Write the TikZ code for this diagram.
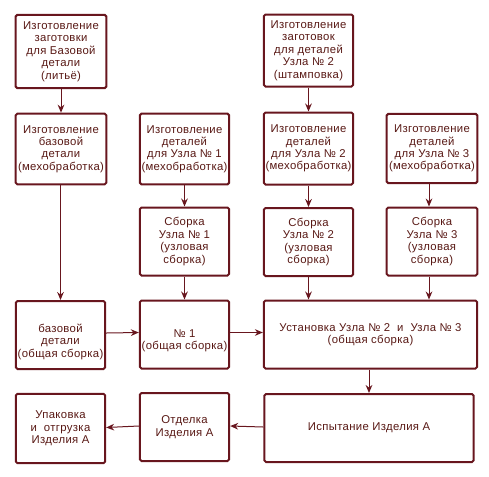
\documentclass[tikz,border=0pt]{standalone}
\usepackage{fontspec}
\setmainfont{Liberation Sans}[LetterSpace=3]
\usetikzlibrary{arrows.meta}
\definecolor{edge}{RGB}{104,22,30}
\definecolor{ink}{RGB}{88,24,20}
\begin{document}
\begin{tikzpicture}[x=0.75pt,y=-0.75pt,
  box/.style={draw=edge, line width=1.5pt, rounded corners=1.2pt, align=center,
    text=ink, inner sep=1pt, font=\fontsize{8.5}{9.3}\selectfont},
  txt/.style={align=center, text=ink, inner sep=0pt, font=\fontsize{8.5}{9.3}\selectfont},
  arr/.style={draw=edge, line width=0.75pt, -{Stealth[length=6pt,width=5pt]}}]
\useasboundingbox (0,0) rectangle (489,476);
% row 1
\node[box, minimum width=68pt, minimum height=55pt] (A) at (61,51.5)
  {Изготовление\\заготовки\\для Базовой\\детали\\(литьё)};
\node[box, minimum width=67pt, minimum height=54pt] (D) at (308.5,50.5)
  {Изготовление\\заготовок\\для деталей\\Узла № 2\\(штамповка)};
% row 2
\node[box, minimum width=68pt, minimum height=53pt] (B) at (61,149)
  {Изготовление\\базовой\\детали\\(мехобработка)};
\node[box, minimum width=67pt, minimum height=53pt] (C) at (184.5,149)
  {Изготовление\\деталей\\для Узла № 1\\(мехобработка)};
\node[box, minimum width=67pt, minimum height=54pt] (E) at (308.5,148.5)
  {Изготовление\\деталей\\для Узла № 2\\(мехобработка)};
\node[box, minimum width=68pt, minimum height=52pt] (F) at (432,148.5)
  {Изготовление\\деталей\\для Узла № 3\\(мехобработка)};
% row 3
\node[box, minimum width=67pt, minimum height=51pt] (C2) at (184.5,241.5)
  {Сборка\\Узла № 1\\(узловая\\сборка)};
\node[box, minimum width=67pt, minimum height=51pt] (E2) at (308.5,242)
  {Сборка\\Узла № 2\\(узловая\\сборка)};
\node[box, minimum width=68pt, minimum height=51pt] (F2) at (432,241.5)
  {Сборка\\Узла № 3\\(узловая\\сборка)};
% row 4
\node[box, minimum width=67pt, minimum height=51pt] (G) at (60.5,335) {};
\node[txt] (Gt) at ([yshift=-5pt]G.center) {базовой\\детали\\(общая сборка)};
\node[box, minimum width=67pt, minimum height=51pt] (H) at (184.5,334.5) {};
\node[txt] (Ht) at ([yshift=-4.5pt]H.center) {№ 1\\(общая сборка)};
\node[box, minimum width=160pt, minimum height=51pt] (I) at (370.5,334.5)
  {Установка Узла № 2 \ и \ Узла № 3\\(общая сборка)};
% row 5
\node[box, minimum width=67pt, minimum height=52pt] (J) at (60.5,428.5)
  {Упаковка\\и \ отгрузка\\Изделия А};
\node[box, minimum width=67pt, minimum height=51pt] (K) at (184.5,427)
  {Отделка\\Изделия А};
\node[box, minimum width=157pt, minimum height=51pt] (L) at (369,428)
  {Испытание Изделия А};
% connectors
\draw[arr] (A.south) -- (B.north);
\draw[arr] (D.south) -- (E.north);
\draw[arr] ([xshift=-0.375pt]B.south) -- ([xshift=-0.375pt]B.south |- G.north);
\draw[arr] (C.south) -- (C2.north);
\draw[arr] (E.south) -- (E2.north);
\draw[arr] ([xshift=-2.25pt]F.south) -- ([xshift=-2.25pt]F2.north);
\draw[arr] (C2.south) -- (H.north);
\draw[arr] (E2.south) -- (E2.south |- I.north);
\draw[arr] ([xshift=-2.25pt]F2.south) -- ([xshift=-2.25pt]F2.south |- I.north);
\draw[arr] ([yshift=1.5pt]G.east) -- ([yshift=1.5pt]H.west);
\draw[arr] ([yshift=1.5pt]H.east) -- ([yshift=1.5pt]I.west);
\draw[arr] (I.south -| L.north) -- (L.north);
\draw[arr] ([yshift=0.75pt]L.west) -- ([yshift=0.75pt]K.east);
\draw[arr] ([yshift=0.75pt]K.west) -- ([yshift=0.75pt]J.east);
\end{tikzpicture}
\end{document}
